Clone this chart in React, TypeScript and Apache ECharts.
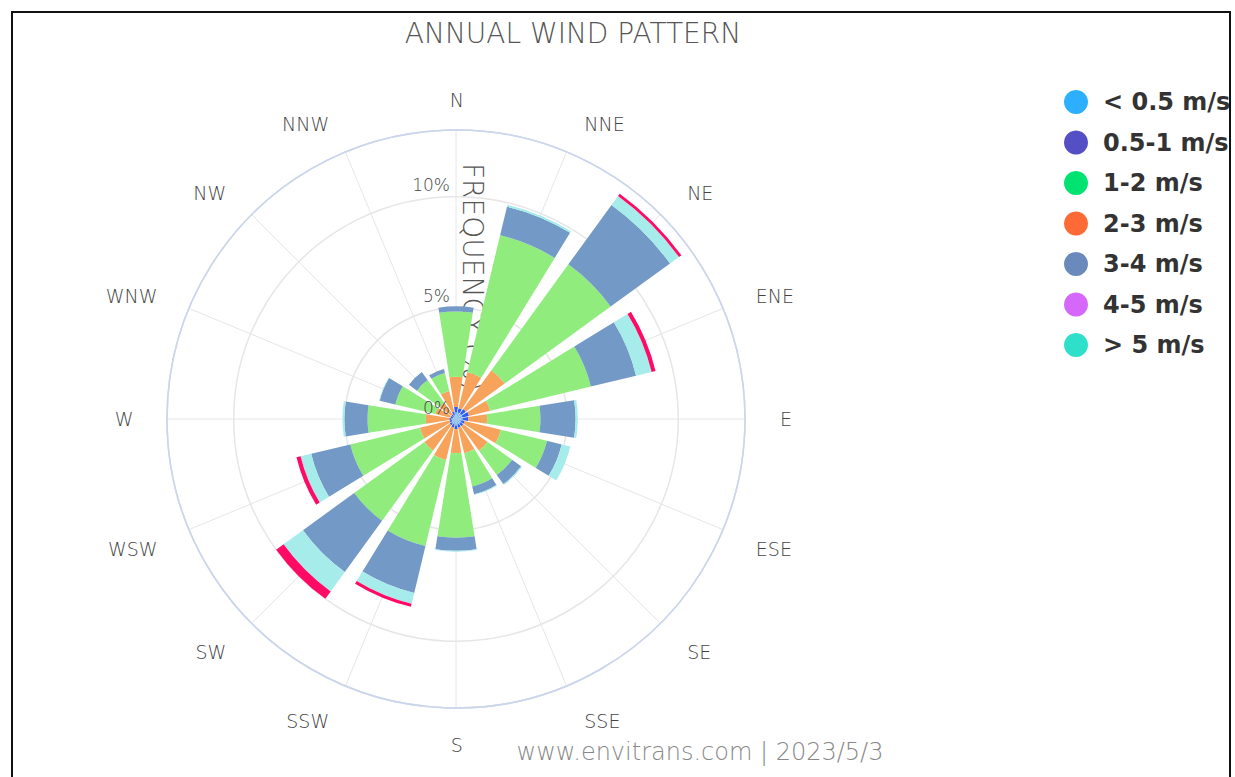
import React, { useEffect, useRef } from 'react';
import * as echarts from 'echarts';

const directions = ['N', 'NNE', 'NE', 'ENE', 'E', 'ESE', 'SE', 'SSE', 'S', 'SSW', 'SW', 'WSW', 'W', 'WNW', 'NW', 'NNW'];
const speedBins = ['< 0.5 m/s', '0.5-1 m/s', '1-2 m/s', '2-3 m/s', '3-4 m/s', '4-5 m/s', '> 5 m/s'];
const radiusTicks = [0, 5, 10];

// frequency (%) per direction, N .. NNW
const below05 = [0.3, 0.3, 0.3, 0.3, 0.3, 0.25, 0.25, 0.25, 0.3, 0.25, 0.25, 0.2, 0.2, 0.15, 0.15, 0.2];
const from05to1 = [0.25, 0.2, 0.25, 0.3, 0.25, 0.15, 0.15, 0.15, 0.15, 0.15, 0.1, 0.1, 0.1, 0.1, 0.1, 0.15];
const from1to2 = [1.35, 1.67, 2.16, 0.98, 0.85, 1.68, 1.36, 1.18, 1.09, 1.5, 1.41, 1.37, 1.06, 0.7, 0.65, 0.95];
const from2to3 = [2.94, 6.33, 5.89, 4.66, 2.4, 2.13, 1.36, 1.54, 3.8, 3.98, 3.9, 3.22, 2.62, 1.86, 1.27, 0.83];
const from3to4 = [0.23, 1.32, 3.3, 2.09, 1.58, 0.68, 0.5, 0.36, 0.59, 2.17, 2.85, 1.81, 1.04, 0.72, 0.45, 0.18];
const from4to5 = [0, 0.09, 0.5, 0.72, 0.1, 0.4, 0.05, 0.04, 0.04, 0.5, 1.08, 0.49, 0.09, 0.03, 0, 0];
const above5 = [0, 0, 0.13, 0.18, 0, 0, 0, 0, 0, 0.14, 0.41, 0.19, 0, 0, 0, 0];

const seriesData = [below05, from05to1, from1to2, from2to3, from3to4, from4to5, above5];
const barColors = ['#7cb5ec', '#2f5ef0', '#f7a35c', '#90ed7d', '#7399c6', '#a6ecea', '#ff0a64'];
const legendColors = ['#2caffe', '#544fc5', '#00e272', '#fe6a35', '#6b8abc', '#d568fb', '#2ee0ca'];

const FONT = "'DejaVu Sans', sans-serif";
const STEP = 360 / directions.length;

export default function App() {
  const ref = useRef<HTMLDivElement>(null);

  useEffect(() => {
    if (!ref.current) return;
    const chart = echarts.init(ref.current, undefined, { renderer: 'svg' });
    const center = [456, 419];
    const radius = 289;
    chart.setOption({
      animation: false,
      backgroundColor: '#ffffff',
      textStyle: { fontFamily: FONT },
      polar: [
        { center, radius },
        { center, radius },
      ],
      angleAxis: [
        {
          // grid + direction labels (full circle)
          polarIndex: 0,
          type: 'value',
          min: 0,
          max: 360,
          interval: STEP,
          startAngle: 90,
          clockwise: true,
          axisLine: { show: true, lineStyle: { color: '#ccd6eb', width: 1.5 } },
          axisTick: { show: false },
          axisLabel: {
            margin: 28,
            color: '#444444',
            fontSize: 19,
            fontWeight: 200,
            fontFamily: FONT,
            lineHeight: 4,
            padding: [7, 5.5, 0, 7],
            formatter: (v: number) => directions[Math.round(v / STEP)] ?? '',
          },
          splitLine: { show: true, lineStyle: { color: '#e6e6e6', width: 1 } },
          z: 0,
        },
        {
          // bars
          polarIndex: 1,
          type: 'category',
          data: directions,
          boundaryGap: false,
          startAngle: 90,
          show: false,
        },
      ],
      radiusAxis: [
        {
          polarIndex: 0,
          type: 'value',
          min: 0,
          max: 13,
          interval: 5,
          axisLine: { show: false },
          axisTick: { show: false },
          axisLabel: { show: false },
          splitLine: {
            show: true,
            lineStyle: { color: ['#e6e6e6', '#e6e6e6', '#e6e6e6', '#ccd6eb'], width: 1.5 },
          },
          z: 0,
        },
        {
          polarIndex: 1,
          type: 'value',
          min: 0,
          max: 13,
          interval: 5,
          axisLine: { show: false },
          axisTick: { show: false },
          splitLine: { show: false },
          axisLabel: {
            show: true,
            showMaxLabel: false,
            margin: 6,
            color: '#444444',
            fontSize: 17,
            fontWeight: 200,
            fontFamily: FONT,
            verticalAlign: 'bottom',
            padding: [0, 0, 3, 0],
            formatter: (v: number) => (radiusTicks.includes(v) ? v + '%' : ''),
          },
          z: 10,
        },
      ],
      legend: {
        orient: 'vertical',
        left: 1059,
        top: 85,
        itemWidth: 44,
        itemHeight: 24,
        itemGap: 16.5,
        icon: 'circle',
        textStyle: { fontSize: 24, fontWeight: 'bold', color: '#333333', fontFamily: FONT, lineHeight: 24 },
        data: speedBins.map((name, i) => ({ name, itemStyle: { color: legendColors[i] } })),
      },
      graphic: [
        {
          type: 'text',
          x: 573,
          y: 33,
          z: 0,
          style: { text: 'ANNUAL WIND PATTERN', fontSize: 28, fontWeight: 200, fill: '#555555', fontFamily: FONT, align: 'center', verticalAlign: 'middle' },
        },
        {
          type: 'text',
          x: 472,
          y: 163,
          rotation: -Math.PI / 2,
          z: 0,
          style: { text: 'FREQUENCY (%)', fontSize: 28, fontWeight: 200, fill: '#555555', fontFamily: FONT, align: 'left', verticalAlign: 'middle' },
        },
        {
          type: 'text',
          x: 700,
          y: 752,
          z: 0,
          style: { text: 'www.envitrans.com | 2023/5/3', fontSize: 24, fontWeight: 200, fill: '#888888', fontFamily: FONT, align: 'center', verticalAlign: 'middle' },
        },
      ],
      series: speedBins.map((name, i) => ({
        name,
        type: 'bar',
        coordinateSystem: 'polar',
        polarIndex: 1,
        stack: 'wind',
        barCategoryGap: '20%',
        data: seriesData[i],
        itemStyle: { color: barColors[i] },
        z: 2,
      })),
    });
    return () => chart.dispose();
  }, []);

  return (
    <div style={{ position: 'fixed', left: 0, top: 0, width: 1235, height: 777, background: '#fff', overflow: 'hidden' }}>
      <div ref={ref} style={{ position: 'absolute', left: 0, top: 0, width: 1235, height: 777 }} />
      <div style={{ position: 'absolute', left: 1231, top: 0, width: 4, height: 777, background: '#fff' }} />
      <div
        style={{
          position: 'absolute',
          left: 11,
          top: 11,
          width: 1216,
          height: 800,
          border: '2px solid #111',
          pointerEvents: 'none',
        }}
      />
    </div>
  );
}
